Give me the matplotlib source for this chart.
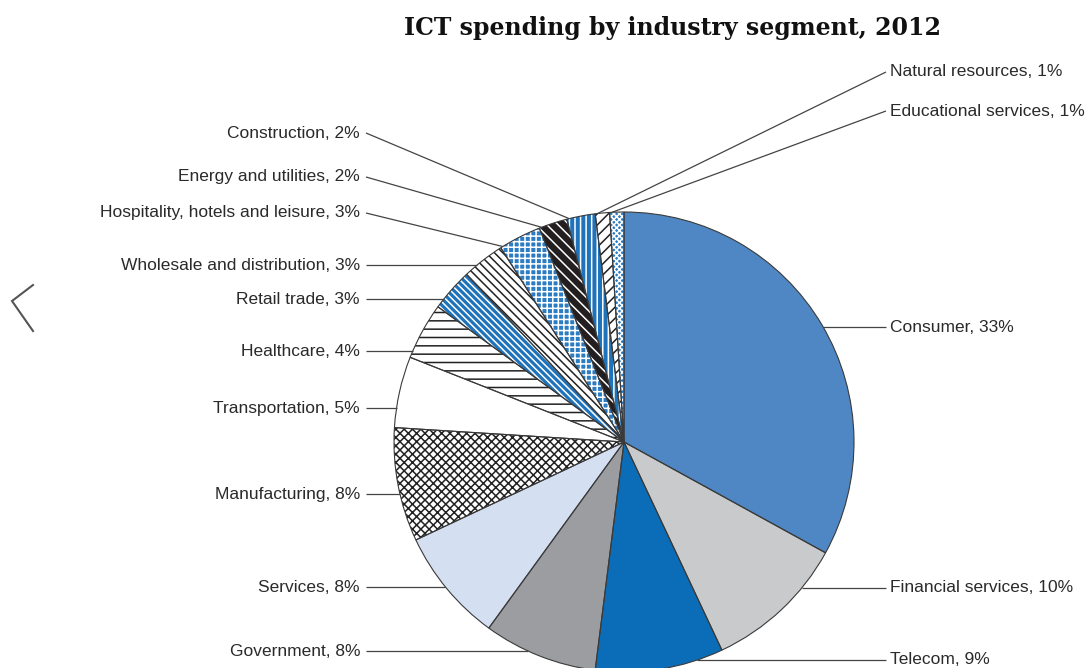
import numpy as np
import matplotlib
matplotlib.use("Agg")
import matplotlib.pyplot as plt
from matplotlib.patches import Wedge

# ── Data ────────────────────────────────────────────────────────────────────
segments = [
    "Consumer", "Financial services", "Telecom", "Government", "Services",
    "Manufacturing", "Transportation", "Healthcare", "Retail trade",
    "Wholesale and distribution", "Hospitality, hotels and leisure",
    "Energy and utilities", "Construction", "Natural resources",
    "Educational services",
]
shares = [33, 10, 9, 8, 8, 8, 5, 4, 3, 3, 3, 2, 2, 1, 1]

# ── Style per slice: face colour, hatch, hatch colour ──────────────────────
faces = ["#4f87c5", "#c9cacc", "#0b6db7", "#9c9da0", "#d4dff1",
         "#ffffff", "#ffffff", "#ffffff", "#1f73ba", "#ffffff",
         "#2c7cc4", "#231f20", "#1f73ba", "#ffffff", "#2c7cc4"]
hatches = [None, None, None, None, None,
           "xxxx", None, "--", "\\" * 5, "\\" * 4,
           "+++", "\\\\\\", "|||", "///", "xxxxxx"]
hatch_cols = [None, None, None, None, None,
              "#222222", None, "#222222", "white", "#222222",
              "white", "white", "white", "#222222", "white"]

# label placement (pixel coords from top-left): side, y of label
label_side = ["R", "R", "R", "L", "L", "L", "L", "L", "L", "L", "L", "L", "L", "R", "R"]
label_y = [327, 588, 660, 651, 587, 494, 408, 351, 299, 265, 213, 177, 133, 72, 111]
# 'h' = horizontal leader to pie edge, 'e' = slanted leader to wedge edge
leader_kind = ["h", "h", "h", "h", "h", "h", "h", "h", "h", "h", "e", "e", "e", "e", "e"]

W, H = 1089, 668
CX, CY, R = 624, 442, 230


def Y(y):
    return H - y


plt.rcParams["hatch.linewidth"] = 1.1
label_font = ["Liberation Sans", "DejaVu Sans"]

fig = plt.figure(figsize=(W / 100, H / 100), dpi=100)
ax = fig.add_axes([0, 0, 1, 1])

wedges, _ = ax.pie(
    shares, startangle=90, counterclock=False, center=(CX, Y(CY)), radius=R,
    colors=faces, wedgeprops=dict(edgecolor="none", linewidth=0),
)

for w, hatch, hc in zip(wedges, hatches, hatch_cols):
    if hatch:
        ax.add_patch(Wedge(w.center, w.r, w.theta1, w.theta2, facecolor="none",
                           edgecolor=hc, linewidth=0, hatch=hatch, zorder=2))
    ax.add_patch(Wedge(w.center, w.r, w.theta1, w.theta2, facecolor="none",
                       edgecolor="#3a3a3a", linewidth=0.8, zorder=3))

# ── Labels and leader lines ────────────────────────────────────────────────
for name, val, w, side, ly, kind in zip(segments, shares, wedges, label_side,
                                        label_y, leader_kind):
    text = f"{name}, {val}%"
    if kind == "h":
        dy = ly - CY
        dx = np.sqrt(max(R ** 2 - dy ** 2, 0))
        ex = CX - dx if side == "L" else CX + dx
        ey = ly
    else:
        th = np.radians(w.theta2 - 0.6)
        ex = CX + R * np.cos(th)
        ey = CY - R * np.sin(th)
    if side == "L":
        sx, tx, ha = 366, 360, "right"
    else:
        sx, tx, ha = 886, 890, "left"
    ax.plot([sx, ex], [Y(ly), Y(ey)], color="#444444", lw=0.9, zorder=4,
            solid_capstyle="butt")
    ax.text(tx, Y(ly), text, ha=ha, va="center", fontsize=12.5,
            family=label_font, color="#2a2a2a")

ax.text(672, Y(28), "ICT spending by industry segment, 2012", ha="center",
        va="center", fontsize=17, fontweight="bold", family="DejaVu Serif",
        color="#111111")

# carousel arrow at the left edge
ax.plot([33, 12, 33], [Y(285), Y(301), Y(331)], color="#555555", lw=1.5,
        solid_joinstyle="miter")

ax.set_xlim(0, W)
ax.set_ylim(0, H)
ax.set_aspect("equal")
ax.axis("off")

fig.savefig("out.png", dpi=100)
